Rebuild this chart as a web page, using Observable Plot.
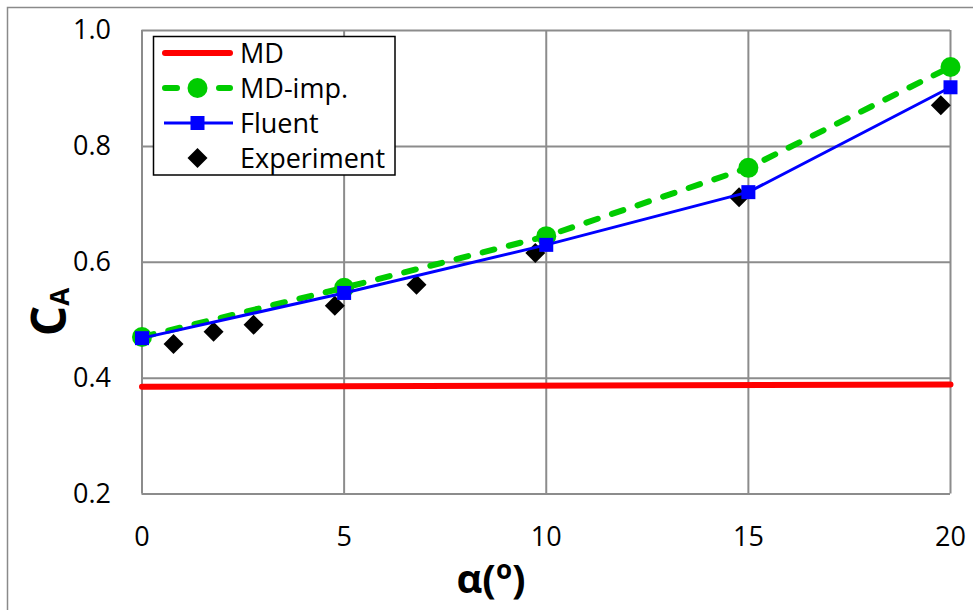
<!DOCTYPE html>
<html>
<head>
<meta charset="utf-8">
<script src="https://cdn.jsdelivr.net/npm/d3@7"></script>
<script src="https://cdn.jsdelivr.net/npm/@observablehq/plot@0.6"></script>
<style>
  html, body { margin: 0; padding: 0; background: #fff; }
  #chart { width: 973px; height: 610px; overflow: hidden; }
</style>
</head>
<body>
<div id="chart"></div>
<script>
// ---- data ----
const alphaTicks = [0, 5, 10, 15, 20];
const caTicks = [0.2, 0.4, 0.6, 0.8, 1.0];

const mdAlpha = [0, 20];
const mdCA = [0.385, 0.389];

const impAlpha = [0, 5, 10, 15, 20];
const impCA = [0.471, 0.556, 0.645, 0.763, 0.937];

const fluentAlpha = [0, 5, 10, 15, 20];
const fluentCA = [0.469, 0.547, 0.630, 0.721, 0.902];

const expAlpha = [0.78, 1.77, 2.76, 4.77, 6.79, 9.73, 14.77, 19.76];
const expCA = [0.459, 0.480, 0.492, 0.525, 0.561, 0.616, 0.712, 0.871];

const seriesNames = ["MD", "MD-imp.", "Fluent", "Experiment"];

const toRows = (xs, ys) => xs.map((x, i) => ({x, y: ys[i]}));
const md = toRows(mdAlpha, mdCA);
const imp = toRows(impAlpha, impCA);
const fluent = toRows(fluentAlpha, fluentCA);
const exp = toRows(expAlpha, expCA);

const RED = "#ff0000", GREEN = "#00cc00", BLUE = "#0000ff", GRID = "#8c8c8c";
const FONT = "'Open Sans', 'Noto Sans', sans-serif";

const plot = Plot.plot({
  width: 973,
  height: 610,
  marginLeft: 141.5,
  marginRight: 23,
  marginTop: 30,
  marginBottom: 116.5,
  style: {fontFamily: FONT, fontSize: "27px", color: "#000", background: "#fff"},
  x: {domain: [0, 20]},
  y: {domain: [0.2, 1.0]},
  marks: [
    Plot.gridX(alphaTicks, {stroke: GRID, strokeOpacity: 1, strokeWidth: 2}),
    Plot.gridY(caTicks, {stroke: GRID, strokeOpacity: 1, strokeWidth: 2}),
    Plot.axisX(alphaTicks, {tickSize: 0, tickPadding: 33, label: null, fontSize: 27}),
    Plot.axisY(caTicks, {tickSize: 0, tickPadding: 31, label: null, tickFormat: d3.format(".1f"), fontSize: 27}),
    Plot.line(md, {x: "x", y: "y", stroke: RED, strokeWidth: 6, strokeLinecap: "round"}),
    Plot.line(imp, {x: "x", y: "y", stroke: GREEN, strokeWidth: 6, strokeDasharray: "12 15", strokeLinecap: "round"}),
    Plot.dot(imp, {x: "x", y: "y", r: 10, fill: GREEN, symbol: "circle"}),
    Plot.dot(exp, {x: "x", y: "y", r: 9, fill: "#000", symbol: "diamond2"}),
    Plot.line(fluent, {x: "x", y: "y", stroke: BLUE, strokeWidth: 3}),
    Plot.dot(fluent, {x: "x", y: "y", r: 7.9, fill: BLUE, symbol: "square"})
  ]
});

document.getElementById("chart").appendChild(plot);

const svg = d3.select(plot);
svg.style("overflow", "visible");

// outer chart border (left and top edges visible)
svg.insert("rect", ":first-child")
  .attr("x", 7.5).attr("y", 7.5)
  .attr("width", 1000).attr("height", 1000)
  .attr("fill", "none").attr("stroke", "#8a8a8a").attr("stroke-width", 1.5);

// axis titles
const xt = svg.append("text")
  .attr("x", 491).attr("y", 593)
  .attr("text-anchor", "middle")
  .attr("font-family", FONT).attr("font-weight", "bold").attr("font-size", 40)
  .attr("fill", "#000");
xt.append("tspan").text("α(");
xt.append("tspan").attr("font-size", 26).attr("dy", -14).text("o");
xt.append("tspan").attr("dy", 14).text(")");

const yt = svg.append("text")
  .attr("transform", "translate(66,312) rotate(-90)")
  .attr("text-anchor", "middle")
  .attr("font-family", FONT).attr("font-weight", "bold").attr("font-size", 48)
  .attr("fill", "#000");
yt.append("tspan").text("C");
yt.append("tspan").attr("font-size", 26).attr("dy", 3).text("A");

// legend
const lg = svg.append("g").attr("font-family", FONT).attr("font-size", 27).attr("text-anchor", "start");
lg.append("rect").attr("x", 153.5).attr("y", 36.5).attr("width", 241.5).attr("height", 138.5)
  .attr("fill", "#fff").attr("stroke", "#000").attr("stroke-width", 1.5);
const rowY = i => 53 + i * 35;
const x0 = 162, x1 = 233, xm = 197.5;
// MD
lg.append("line").attr("x1", x0 + 3).attr("x2", x1 - 3).attr("y1", rowY(0)).attr("y2", rowY(0))
  .attr("stroke", RED).attr("stroke-width", 6).attr("stroke-linecap", "round");
// MD-imp.
lg.append("line").attr("x1", x0 + 3).attr("x2", x1 - 3).attr("y1", rowY(1)).attr("y2", rowY(1))
  .attr("stroke", GREEN).attr("stroke-width", 6).attr("stroke-dasharray", "12 15").attr("stroke-linecap", "round");
lg.append("circle").attr("cx", xm).attr("cy", rowY(1)).attr("r", 10).attr("fill", GREEN);
// Fluent
lg.append("line").attr("x1", x0 + 2).attr("x2", x1).attr("y1", rowY(2)).attr("y2", rowY(2))
  .attr("stroke", BLUE).attr("stroke-width", 3);
lg.append("rect").attr("x", xm - 7).attr("y", rowY(2) - 7).attr("width", 14).attr("height", 14).attr("fill", BLUE);
// Experiment
lg.append("path").attr("d", d3.symbol(d3.symbolDiamond2, 256)()).attr("transform", `translate(${xm},${rowY(3)})`).attr("fill", "#000");
seriesNames.forEach((name, i) => {
  lg.append("text").attr("x", 240).attr("y", rowY(i) + 10).attr("text-anchor", "start").attr("fill", "#000").text(name);
});
</script>
</body>
</html>
